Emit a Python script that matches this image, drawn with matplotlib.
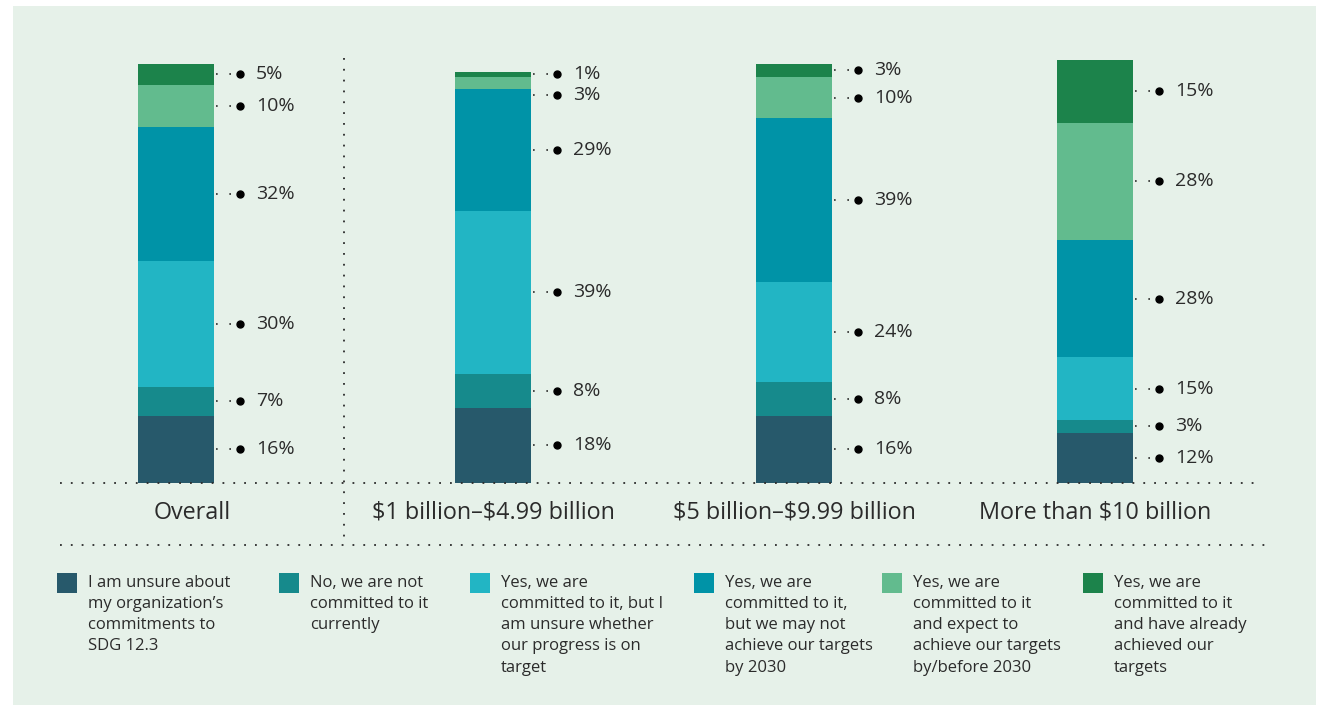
"""
Stacked bar chart: commitment to SDG 12.3 by company revenue band.
"""

import matplotlib.pyplot as plt
from matplotlib.lines import Line2D
from matplotlib.patches import Rectangle

# ---------------------- Data ---------------------- #
categories = ["Overall", r"\$1 billion–\$4.99 billion",
              r"\$5 billion–\$9.99 billion", r"More than \$10 billion"]

# stacked bottom -> top
unsure_commit = [16, 18, 16, 12]
not_committed = [7, 8, 8, 3]
unsure_progress = [30, 39, 24, 15]
may_not_achieve = [32, 29, 39, 28]
expect_achieve = [10, 3, 10, 28]
already_achieved = [5, 1, 3, 15]

series = [unsure_commit, not_committed, unsure_progress,
          may_not_achieve, expect_achieve, already_achieved]

legend_labels = [
    "I am unsure about\nmy organization’s\ncommitments to\nSDG 12.3",
    "No, we are not\ncommitted to it\ncurrently",
    "Yes, we are\ncommitted to it, but I\nam unsure whether\nour progress is on\ntarget",
    "Yes, we are\ncommitted to it,\nbut we may not\nachieve our targets\nby 2030",
    "Yes, we are\ncommitted to it\nand expect to\nachieve our targets\nby/before 2030",
    "Yes, we are\ncommitted to it\nand have already\nachieved our\ntargets",
]

colors = ["#27596b", "#168a8c", "#22b5c4", "#0093a7", "#62bb8e", "#1c834b"]

# ---------------------- Layout ---------------------- #
W, H = 1324, 710
BG = "#e6f1e9"
INK = "#2b2b2b"
FONT = ["Open Sans", "DejaVu Sans"]
BAR_PX = [176, 493, 794, 1095]     # bar centres (pixels)
LABEL_PX = [192, 493, 794, 1095]   # category label centres (pixels)
LEG_PX = [57, 279, 470, 694, 882, 1083]


def fx(px):
    return px / W


def fy(py):
    return 1 - py / H


def main():
    plt.rcParams["font.family"] = FONT
    fig = plt.figure(figsize=(W / 100, H / 100), dpi=100, facecolor="white")

    # light green panel
    fig.add_artist(Rectangle((fx(13), fy(705)), fx(1316) - fx(13), fy(6) - fy(705),
                             transform=fig.transFigure, facecolor=BG,
                             edgecolor="none", zorder=0))

    # bars axes: x in pixels, y in percent (baseline 483px, 4.19 px per %)
    ymax = 105
    px_per_pct = 4.19
    ax = fig.add_axes([0, fy(483), 1, ymax * px_per_pct / H])
    ax.set_xlim(0, W)
    ax.set_ylim(0, ymax)
    ax.axis("off")
    ax.patch.set_alpha(0)

    bar_w = 76
    min_gap = 4.8

    for i, cat in enumerate(categories):
        xc = BAR_PX[i]
        bottom = 0
        centers = []
        for s, col in zip(series, colors):
            v = s[i]
            ax.bar(xc, v, width=bar_w, bottom=bottom, color=col,
                   edgecolor="none", zorder=2)
            centers.append(bottom + v / 2)
            bottom += v

        # keep labels from colliding, working down from the top
        ys = centers[:]
        for k in range(len(ys) - 2, -1, -1):
            if ys[k + 1] - ys[k] < min_gap:
                ys[k] = ys[k + 1] - min_gap

        x_edge = xc + bar_w / 2
        for s, y in zip(series, ys):
            ax.plot([x_edge + 2, x_edge + 20], [y, y],
                    color=INK, lw=1.2, ls=(0, (1, 7)), zorder=3,
                    clip_on=False)
            ax.plot(x_edge + 26, y, "o", color="black", ms=5,
                    zorder=3, clip_on=False)
            ax.text(x_edge + 42, y, f"{s[i]}%", ha="left",
                    va="center", fontsize=14, color=INK, clip_on=False)

        fig.text(fx(LABEL_PX[i]), fy(513), cat, ha="center",
                 va="center", fontsize=16.8, color=INK)

    # dotted guides
    dot = dict(color=INK, lw=1.3, ls=(0, (1, 5)), transform=fig.transFigure)
    fig.add_artist(Line2D([fx(60), fx(1262)], [fy(483), fy(483)], **dot))
    fig.add_artist(Line2D([fx(60), fx(1266)], [fy(545), fy(545)], **dot))
    fig.add_artist(Line2D([fx(344), fx(344)], [fy(58), fy(545)], **dot))

    # legend
    for lx, lab, col in zip(LEG_PX, legend_labels, colors):
        fig.add_artist(Rectangle((fx(lx), fy(593)), fx(20), 20 / H,
                                 transform=fig.transFigure, facecolor=col,
                                 edgecolor="none"))
        fig.text(fx(lx + 31), fy(575), lab, ha="left", va="top",
                 fontsize=12, color=INK, linespacing=1.43)

    fig.savefig("out.png", dpi=100, facecolor="white")


if __name__ == "__main__":
    main()
